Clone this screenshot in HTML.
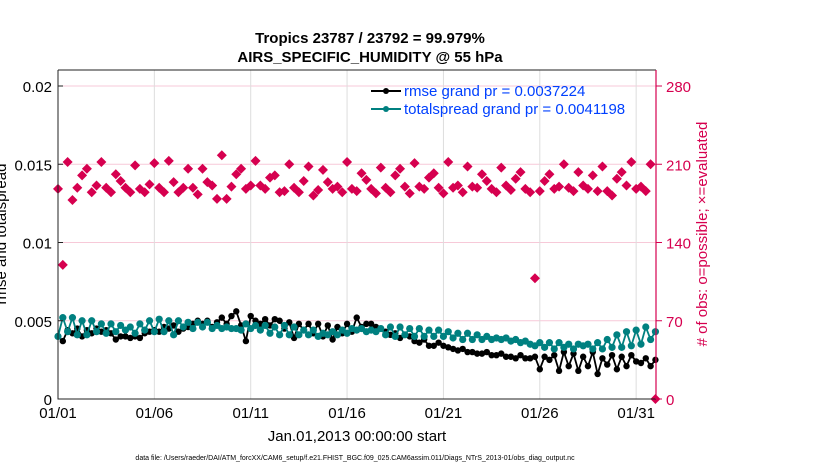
<!DOCTYPE html>
<html><head><meta charset="utf-8">
<style>
body{margin:0;background:#fff;width:830px;height:470px;overflow:hidden;font-family:"Liberation Sans",Arial,sans-serif;}
svg text{font-family:"Liberation Sans",Arial,sans-serif;}
</style></head>
<body>
<svg id="chart" width="830" height="470" xmlns="http://www.w3.org/2000/svg">
<text x="370" y="43" font-size="15" font-weight="bold" text-anchor="middle">Tropics 23787 / 23792 = 99.979%</text>
<text x="370" y="62" font-size="15" font-weight="bold" text-anchor="middle">AIRS_SPECIFIC_HUMIDITY @ 55 hPa</text>
<g id="grid"></g>
<g id="marks"></g>
<g id="axes"></g>
<text transform="translate(6,234) rotate(-90)" font-size="15" text-anchor="middle">rmse and totalspread</text>
<text transform="translate(707,234) rotate(-90)" font-size="15" fill="#d6004f" text-anchor="middle"># of obs: o=possible; ×=evaluated</text>
<text x="357" y="441" font-size="15" text-anchor="middle">Jan.01,2013 00:00:00 start</text>
<text x="355" y="460" font-size="7" text-anchor="middle">data file: /Users/raeder/DAI/ATM_forcXX/CAM6_setup/f.e21.FHIST_BGC.f09_025.CAM6assim.011/Diags_NTrS_2013-01/obs_diag_output.nc</text>
<g>
<line x1="371" y1="91" x2="401" y2="91" stroke="#000" stroke-width="2"/>
<circle cx="386" cy="91" r="3" fill="#000"/>
<text x="404" y="96" font-size="15" fill="#0040ff">rmse grand pr = 0.0037224</text>
<line x1="371" y1="109" x2="401" y2="109" stroke="#008080" stroke-width="2"/>
<circle cx="386" cy="109" r="3" fill="#008080"/>
<text x="404" y="114" font-size="15" fill="#0040ff">totalspread grand pr = 0.0041198</text>
</g>
</svg>
<script>
const xTickLabels = ["01/01","01/06","01/11","01/16","01/21","01/26","01/31"];
const xTickDays = [0,5,10,15,20,25,30];
const yTickLeft = [0,0.005,0.01,0.015,0.02];
const yTickRight = [0,70,140,210,280];
const rmse = [0.0040,0.0037,0.0044,0.0042,0.0045,0.0040,0.0044,0.0042,0.0045,0.0043,0.0044,0.0042,0.0038,0.0040,0.0040,0.0039,0.0040,0.0039,0.0042,0.0043,
0.0044,0.0043,0.0046,0.0045,0.0047,0.0043,0.0045,0.0046,0.0048,0.0050,0.0048,0.0050,0.0046,0.0049,0.0052,0.0048,0.0053,0.0056,0.0047,0.0037,
0.0053,0.0050,0.0048,0.0051,0.0047,0.0051,0.0050,0.0045,0.0049,0.0039,0.0048,0.0044,0.0048,0.0042,0.0048,0.0040,0.0047,0.0038,0.0046,0.0042,
0.0048,0.0043,0.0052,0.0046,0.0048,0.0048,0.0046,0.0045,0.0043,0.0041,0.0042,0.0039,0.0041,0.0040,0.0037,0.0036,0.0038,0.0034,0.0034,0.0036,
0.0034,0.0033,0.0032,0.0031,0.0032,0.0030,0.0030,0.0029,0.0029,0.0030,0.0028,0.0028,0.0029,0.0027,0.0027,0.0026,0.0028,0.0026,0.0026,0.0027,
0.0019,0.0027,0.0025,0.0028,0.0018,0.0030,0.0021,0.0029,0.0018,0.0027,0.0021,0.0030,0.0016,0.0026,0.0022,0.0028,0.0019,0.0027,0.0021,0.0028,
0.0024,0.0023,0.0026,0.0021,0.0025];
const spread = [0.0040,0.0052,0.0043,0.0052,0.0041,0.0050,0.0041,0.0050,0.0043,0.0048,0.0042,0.0048,0.0043,0.0047,0.0044,0.0046,0.0042,0.0048,0.0044,0.0050,
0.0043,0.0051,0.0043,0.0050,0.0041,0.0050,0.0046,0.0049,0.0045,0.0049,0.0046,0.0049,0.0045,0.0047,0.0045,0.0046,0.0045,0.0045,0.0044,0.0048,
0.0045,0.0047,0.0044,0.0047,0.0042,0.0046,0.0041,0.0047,0.0041,0.0046,0.0041,0.0044,0.0041,0.0044,0.0040,0.0042,0.0041,0.0043,0.0041,0.0044,
0.0042,0.0045,0.0044,0.0045,0.0043,0.0044,0.0043,0.0045,0.0041,0.0046,0.0040,0.0046,0.0041,0.0045,0.0040,0.0045,0.0040,0.0044,0.0040,0.0044,
0.0040,0.0043,0.0039,0.0042,0.0038,0.0042,0.0038,0.0041,0.0038,0.0040,0.0038,0.0039,0.0038,0.0039,0.0037,0.0038,0.0036,0.0037,0.0035,0.0034,
0.0036,0.0033,0.0036,0.0032,0.0036,0.0033,0.0035,0.0032,0.0035,0.0034,0.0035,0.0032,0.0036,0.0032,0.0038,0.0033,0.0041,0.0033,0.0043,0.0034,
0.0044,0.0035,0.0046,0.0038,0.0043];
const obsCount = [188,120,212,178,189,200,206,185,191,212,189,185,201,195,189,185,209,188,185,192,211,189,185,213,194,185,189,206,189,183,
206,194,191,179,218,179,190,201,206,188,191,213,191,188,198,200,185,186,210,189,185,195,208,182,187,205,194,188,
190,185,212,188,186,202,196,188,184,207,189,185,200,206,190,184,211,190,188,198,202,189,184,212,189,191,185,208,190,189,
201,195,188,185,207,191,187,197,203,188,185,108,186,195,201,188,190,210,189,186,203,191,188,200,186,208,186,182,197,203,
191,212,188,190,186,210,0];

const L=58,R=656,T=70,B=399;
const x = d => L + d*(R-L)/31.03;
const yL = v => B - v*(B-86)/0.02;
const yR = v => B - v*(B-86)/280;
const NS="http://www.w3.org/2000/svg";
function mk(tag,attrs,parent){const e=document.createElementNS(NS,tag);for(const k in attrs)e.setAttribute(k,attrs[k]);parent.appendChild(e);return e;}
const grid=document.getElementById('grid'),marks=document.getElementById('marks'),axes=document.getElementById('axes');
yTickLeft.forEach((v,i)=>{ if(v>0){const l=mk('line',{x1:L,x2:R,y1:yL(v),y2:yL(v),stroke:'#f7c9d8','stroke-width':1},grid);

}
const t=mk('text',{x:L-6,y:yL(v)+6,'font-size':15,'text-anchor':'end'},axes);t.textContent=v===0?'0':String(v);


mk('line',{x1:L,x2:L+5,y1:yL(v),y2:yL(v),stroke:'#222'},axes);});
xTickDays.forEach((d,i)=>{ if(d>0){const l=mk('line',{x1:x(d),x2:x(d),y1:T,y2:B,stroke:'#ddd','stroke-width':1},grid);

}
const t=mk('text',{x:x(d),y:B+19,'font-size':15,'text-anchor':'middle'},axes);t.textContent=xTickLabels[i];

});
yTickRight.forEach(v=>{mk('line',{x1:R,x2:R+6,y1:yR(v),y2:yR(v),stroke:'#d6004f'},axes);
const t=mk('text',{x:R+10,y:yR(v)+6,'font-size':15,fill:'#d6004f'},axes);t.textContent=String(v);

});
mk('path',{d:`M${L},${T}H${R}M${L},${T}V${B}H${R}`,stroke:'#222',fill:'none','stroke-width':1},axes);
mk('line',{x1:R,x2:R,y1:T,y2:B,stroke:'#d6004f','stroke-width':1.2},axes);

function series(vals,color,r,name){
 const p=mk('polyline',{points:vals.map((v,i)=>x(i/4)+','+yL(v)).join(' '),fill:'none',stroke:color,'stroke-width':1.8},marks);
 
 
 vals.forEach((v,i)=>{const c=mk('circle',{cx:x(i/4),cy:yL(v),r:r,fill:color},marks);
 
 });
}
series(rmse,'#000',3.2,'rmse');
series(spread,'#008080',3.6,'totalspread');
obsCount.forEach((v,i)=>{const cx=x(i/4),cy=yR(v),s=5;
 const d=mk('polygon',{points:`${cx},${cy-s} ${cx+s},${cy} ${cx},${cy+s} ${cx-s},${cy}`,fill:'#d6004f'},marks);
 
 });
</script>
</body></html>
